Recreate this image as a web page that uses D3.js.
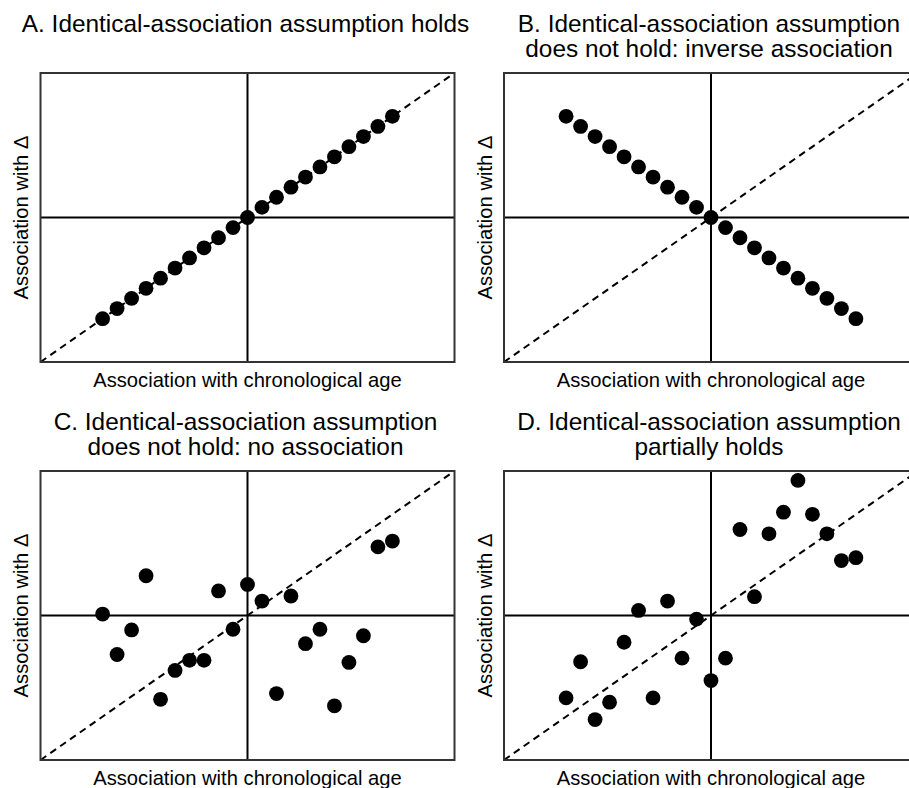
<!DOCTYPE html>
<html>
<head>
<meta charset="utf-8">
<script src="https://cdn.jsdelivr.net/npm/d3@7/dist/d3.min.js"></script>
<style>
  html, body { margin: 0; padding: 0; background: #fff; }
  svg { display: block; }
  text { font-family: "Liberation Sans", Arial, Helvetica, sans-serif; fill: #000; }
</style>
</head>
<body>
<svg id="chart" width="909" height="788"></svg>
<script>
// Shared grid of positions along the chronological-age association axis
const xValues = [-0.70, -0.63, -0.56, -0.49, -0.42, -0.35, -0.28, -0.21, -0.14, -0.07,
                 0.00, 0.07, 0.14, 0.21, 0.28, 0.35, 0.42, 0.49, 0.56, 0.63, 0.70];

// Association with Δ for each scenario
const yA = [-0.70, -0.63, -0.56, -0.49, -0.42, -0.35, -0.28, -0.21, -0.14, -0.07,
            0.00, 0.07, 0.14, 0.21, 0.28, 0.35, 0.42, 0.49, 0.56, 0.63, 0.70];
const yB = [0.70, 0.63, 0.56, 0.49, 0.42, 0.35, 0.28, 0.21, 0.14, 0.07,
            0.00, -0.07, -0.14, -0.21, -0.28, -0.35, -0.42, -0.49, -0.56, -0.63, -0.70];
const yC = [0.01, -0.27, -0.10, 0.275, -0.58, -0.38, -0.31, -0.31, 0.17, -0.095,
            0.215, 0.10, -0.54, 0.135, -0.195, -0.095, -0.625, -0.325, -0.14, 0.475, 0.515];
const yD = [-0.57, -0.32, -0.72, -0.60, -0.185, 0.035, -0.57, 0.10, -0.295, -0.025,
            -0.45, -0.295, 0.595, 0.13, 0.565, 0.715, 0.935, 0.70, 0.565, 0.38, 0.40];

// Panel titles (one entry per line)
const titles = [
  ["A. Identical-association assumption holds"],
  ["B. Identical-association assumption", "does not hold: inverse association"],
  ["C. Identical-association assumption", "does not hold: no association"],
  ["D. Identical-association assumption", "partially holds"]
];
const xLabel = "Association with chronological age";
const yLabel = "Association with \u0394";
const series = [yA, yB, yC, yD];

const svg = d3.select("#chart");

const colX = [40.5, 504];
const rowY = [73, 471];
const boxW = 414, boxH = 289;

series.forEach((ys, i) => {
  const left = colX[i % 2];
  const top = rowY[Math.floor(i / 2)];
  const g = svg.append("g").attr("transform", `translate(${left},${top})`);

  const x = d3.scaleLinear().domain([-1, 1]).range([0, boxW]);
  const y = d3.scaleLinear().domain([-1, 1]).range([boxH, 0]);

  const clipId = "clip" + i;
  g.append("clipPath").attr("id", clipId)
    .append("rect").attr("width", boxW).attr("height", boxH);

  // Identity reference line
  g.append("line")
    .attr("clip-path", `url(#${clipId})`)
    .attr("x1", x(-1)).attr("y1", y(-1))
    .attr("x2", x(1)).attr("y2", y(1))
    .attr("stroke", "#000").attr("stroke-width", 2)
    .attr("stroke-dasharray", "7,5");

  // Zero lines
  g.append("line")
    .attr("x1", x(0)).attr("x2", x(0)).attr("y1", 0).attr("y2", boxH)
    .attr("stroke", "#000").attr("stroke-width", 2);
  g.append("line")
    .attr("x1", 0).attr("x2", boxW).attr("y1", y(0)).attr("y2", y(0))
    .attr("stroke", "#000").attr("stroke-width", 2);

  // Frame
  g.append("rect")
    .attr("width", boxW).attr("height", boxH)
    .attr("fill", "none").attr("stroke", "#333").attr("stroke-width", 2);

  // Points
  g.selectAll("circle")
    .data(xValues.map((v, k) => [v, ys[k]]))
    .join("circle")
    .attr("cx", d => x(d[0]))
    .attr("cy", d => y(d[1]))
    .attr("r", 7.4)
    .attr("fill", "#000");

  // Titles
  const tLines = titles[i];
  const firstBase = i < 2 ? 32 : 429.5;
  tLines.forEach((t, k) => {
    svg.append("text")
      .attr("x", left + boxW / 2 - 2)
      .attr("y", firstBase + k * 25)
      .attr("text-anchor", "middle")
      .attr("font-size", 24.4)
      .text(t);
  });

  // Axis titles
  g.append("text")
    .attr("x", boxW / 2)
    .attr("y", boxH + 24.5)
    .attr("text-anchor", "middle")
    .attr("font-size", 20.2)
    .text(xLabel);
  g.append("text")
    .attr("transform", `translate(-12.5,${boxH / 2}) rotate(-90)`)
    .attr("text-anchor", "middle")
    .attr("font-size", 20.2)
    .text(yLabel);
});
</script>
</body>
</html>
